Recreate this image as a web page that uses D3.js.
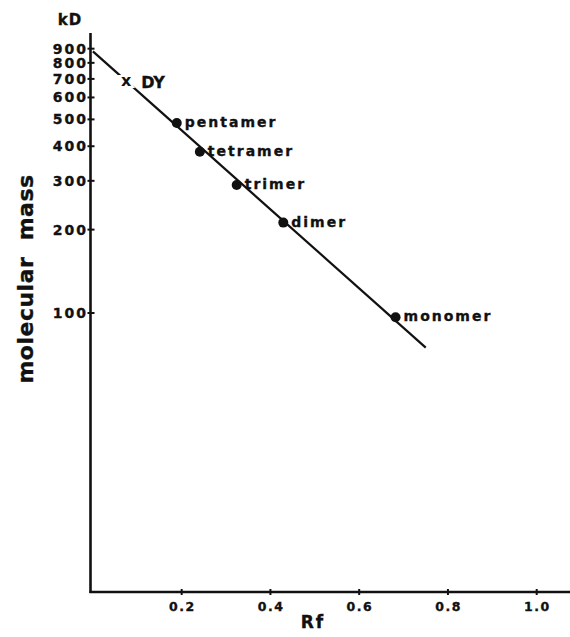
<!DOCTYPE html>
<html>
<head>
<meta charset="utf-8">
<script src="https://cdn.jsdelivr.net/npm/d3@7"></script>
<style>
  html, body { margin: 0; padding: 0; background: #fff; }
  svg { display: block; }
  text { font-family: "DejaVu Sans", "Liberation Sans", sans-serif; font-weight: bold; fill: #111; }
  text.heavy { stroke: #111; stroke-width: 0.35px; }
</style>
</head>
<body>
<svg id="chart" width="570" height="637"></svg>
<script>
// ---- data ----
const proteins   = ["pentamer", "tetramer", "trimer", "dimer", "monomer"];
const rfValues   = [0.189, 0.241, 0.324, 0.429, 0.682];
const massValues = [485, 382, 290, 212, 96.5];

const unknownLabel = "DY";
const unknownRf    = 0.075;
const unknownMass  = 688;

const fitRf   = [0, 0.75];
const fitMass = [880, 75];

const yTickValues = [100, 200, 300, 400, 500, 600, 700, 800, 900];
const xTickValues = [0.2, 0.4, 0.6, 0.8, 1.0];
const xTickLabels = ["0.2", "0.4", "0.6", "0.8", "1.0"];

const yUnit  = "kD";
const yTitle = "molecular  mass";
const xTitle = "Rf";

// ---- scales ----
const x = d3.scaleLinear().domain([0, 1]).range([92.9, 536.7]);
const y = d3.scaleLog().domain([10, 1000]).range([590, 36]);

const svg = d3.select("#chart");

// axis lines
const axisX0 = 90.5, axisY0 = 592;
svg.append("line").attr("x1", axisX0).attr("x2", axisX0).attr("y1", 33).attr("y2", axisY0 + 1)
  .attr("stroke", "#111").attr("stroke-width", 2.6);
svg.append("line").attr("x1", axisX0 - 1).attr("x2", 570).attr("y1", axisY0).attr("y2", axisY0)
  .attr("stroke", "#111").attr("stroke-width", 2.6);

// y ticks
const yt = svg.append("g");
yTickValues.forEach(v => {
  yt.append("line").attr("x1", axisX0 - 3).attr("x2", axisX0 + 4)
    .attr("y1", y(v)).attr("y2", y(v)).attr("stroke", "#111").attr("stroke-width", 2);
  yt.append("text").attr("class", "heavy").attr("x", 86 + 2).attr("y", y(v)).attr("dy", "0.36em")
    .attr("text-anchor", "end").style("font-size", "14px").style("letter-spacing", "2px")
    .text(d3.format("d")(v));
});

// x ticks
const xt = svg.append("g");
xTickValues.forEach((v, i) => {
  xt.append("line").attr("x1", x(v)).attr("x2", x(v))
    .attr("y1", axisY0 - 3).attr("y2", axisY0 + 3).attr("stroke", "#111").attr("stroke-width", 2);
  xt.append("text").attr("class", "heavy").attr("x", x(v) + 0.75).attr("y", 611)
    .attr("text-anchor", "middle").style("font-size", "12.5px").style("letter-spacing", "1.5px")
    .text(xTickLabels[i]);
});

// titles
svg.append("text").attr("class", "heavy").attr("x", 70).attr("y", 25).attr("text-anchor", "middle")
  .style("font-size", "15px").style("letter-spacing", "1px").text(yUnit);
svg.append("text").attr("class", "heavy").attr("transform", "translate(33,279) rotate(-90)").attr("text-anchor", "middle")
  .style("font-size", "22px").style("letter-spacing", "0.5px").style("white-space", "pre")
  .attr("xml:space", "preserve").text(yTitle);
svg.append("text").attr("class", "heavy").attr("x", 313).attr("y", 628).attr("text-anchor", "middle")
  .style("font-size", "17px").style("letter-spacing", "2px").text(xTitle);

// fitted line
const line = d3.line().x(d => x(d[0])).y(d => y(d[1]));
svg.append("path").datum(fitRf.map((r, i) => [r, fitMass[i]]))
  .attr("d", line).attr("fill", "none").attr("stroke", "#111").attr("stroke-width", 2.2);

// unknown marker
svg.append("text").attr("x", x(unknownRf)).attr("y", y(unknownMass)).attr("dy", "0.3em")
  .attr("text-anchor", "middle").style("font-size", "16px")
  .attr("stroke", "#fff").attr("stroke-width", 4).attr("paint-order", "stroke")
  .text("x");
svg.append("text").attr("class", "heavy").attr("x", x(unknownRf) + 15).attr("y", y(unknownMass) + 7)
  .style("font-size", "16px").text(unknownLabel);

// standards
const pts = svg.append("g");
proteins.forEach((p, i) => {
  pts.append("circle").attr("cx", x(rfValues[i])).attr("cy", y(massValues[i]))
    .attr("r", 5).attr("fill", "#111");
  pts.append("text").attr("class", "heavy").attr("x", x(rfValues[i]) + 8).attr("y", y(massValues[i]) + 4)
    .style("font-size", "14px").style("letter-spacing", "2px").text(p);
});
</script>
</body>
</html>
